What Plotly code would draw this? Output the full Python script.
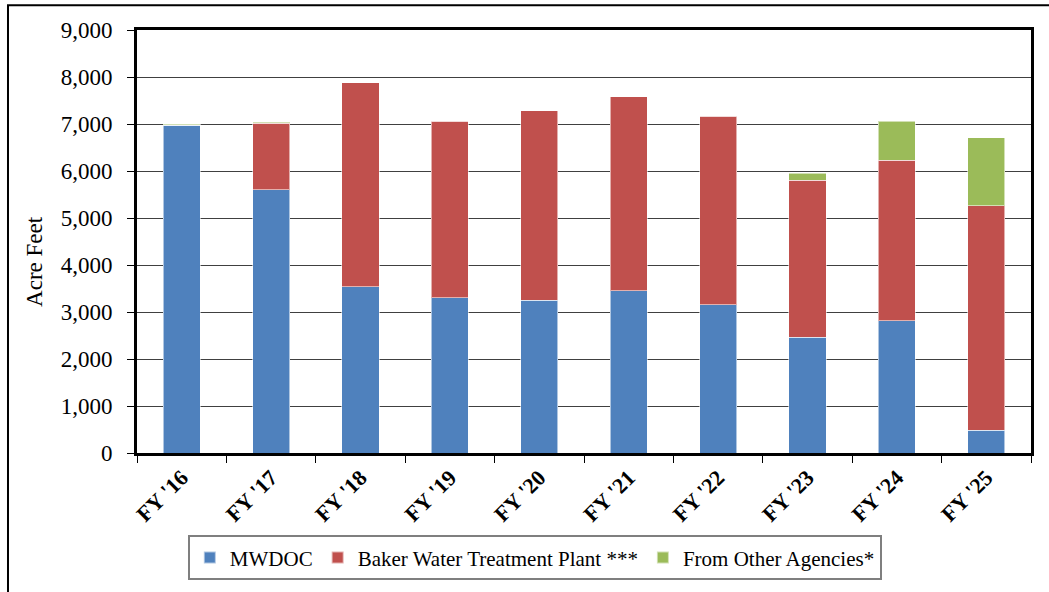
import plotly.graph_objects as go

# Fiscal years and water supply by source (acre feet)
years = ["FY '16", "FY '17", "FY '18", "FY '19", "FY '20",
         "FY '21", "FY '22", "FY '23", "FY '24", "FY '25"]
mwdoc = [6970, 5600, 3540, 3300, 3245, 3455, 3155, 2460, 2810, 480]
baker = [0, 1420, 4340, 3760, 4035, 4130, 4005, 3345, 3420, 4780]
other = [25, 20, 0, 0, 0, 0, 15, 145, 830, 1450]

y_ticks = [0, 1000, 2000, 3000, 4000, 5000, 6000, 7000, 8000, 9000]

series = [
    ("MWDOC", mwdoc, "#4F81BD"),
    ("Baker Water Treatment Plant ***", baker, "#C0504D"),
    ("From Other Agencies*", other, "#9BBB59"),
]

FONT = "Liberation Serif, Times New Roman, serif"

fig = go.Figure()
for name, vals, color in series:
    fig.add_trace(go.Bar(
        x=years, y=vals, name=name,
        marker=dict(color=color, line=dict(color="rgba(255,255,255,0.55)", width=1)),
    ))

fig.update_layout(
    barmode="stack",
    bargap=0.585,
    width=1049, height=592,
    margin=dict(l=137, r=18, t=30, b=135),
    paper_bgcolor="white",
    plot_bgcolor="white",
    font=dict(family=FONT, size=22, color="black"),
    showlegend=True,
    legend=dict(
        orientation="h",
        x=0.445, xanchor="center",
        y=-0.248, yanchor="middle",
        font=dict(family=FONT, size=21, color="black"),
        bordercolor="#7f7f7f", borderwidth=2,
        bgcolor="white",
        itemsizing="constant",
        traceorder="normal",
    ),
    xaxis=dict(
        type="category",
        tickangle=-45,
        tickfont=dict(family=FONT, size=22, color="black", weight="bold"),
        showline=True, linecolor="black", linewidth=3, mirror=True,
        ticks="outside", ticklen=7, tickcolor="black", tickwidth=1,
        tickson="boundaries",
        showgrid=False,
    ),
    yaxis=dict(
        range=[0, 9000],
        tickvals=y_ticks,
        tickformat=",",
        tickfont=dict(family=FONT, size=23, color="black"),
        ticklabelstandoff=10,
        showline=True, linecolor="black", linewidth=3, mirror=True,
        ticks="outside", ticklen=7, tickcolor="black", tickwidth=1,
        showgrid=True, gridcolor="#404040", gridwidth=1.2,
        zeroline=False,
    ),
    annotations=[
        dict(text="Acre Feet", xref="paper", yref="paper",
             x=-0.114, y=0.452, xanchor="center", yanchor="middle",
             textangle=-90, showarrow=False,
             font=dict(family=FONT, size=23, color="black")),
    ],
    shapes=[
        dict(type="rect", xref="paper", yref="paper",
             x0=-0.1443, x1=1.04, y0=-0.34, y1=1.0585,
             line=dict(color="black", width=2), fillcolor="rgba(0,0,0,0)", layer="below"),
    ],
)

fig.write_html("out.html")
